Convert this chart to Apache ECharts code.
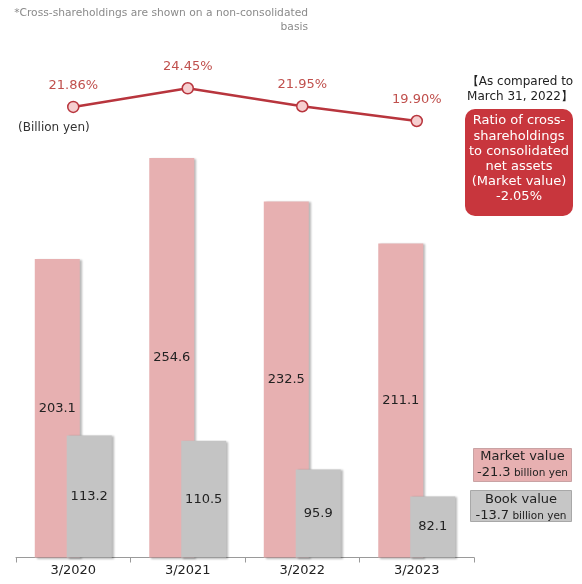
<!DOCTYPE html>
<html><head><meta charset="utf-8">
<script src="https://cdn.jsdelivr.net/npm/echarts@6.0.0/dist/echarts.min.js"></script>
<style>html,body{margin:0;padding:0;background:#fff}#c{width:582px;height:584px}</style>
</head><body><div id="c"></div>
<script>
const categories = ['3/2020', '3/2021', '3/2022', '3/2023'];
const marketValues = [203.1, 254.6, 232.5, 211.1];
const bookValues = [113.2, 110.5, 95.9, 82.1];
const ratioValues = [21.86, 24.45, 21.95, 19.90];

const FONT = '"DejaVu Sans", Verdana, sans-serif';
const chart = echarts.init(document.getElementById('c'));
chart.setOption({
  animation: false,
  backgroundColor: '#fff',
  textStyle: { fontFamily: FONT },
  grid: [
    { left: 16, right: 108, top: 69, bottom: 26.5 },
    { left: 16, right: 108, top: 48.4, bottom: 427.8 }
  ],
  xAxis: [
    {
      type: 'category', gridIndex: 0, data: categories,
      axisLine: { lineStyle: { color: '#9a9a9a', width: 1 } },
      axisTick: { show: true, length: 5, lineStyle: { color: '#9a9a9a' } },
      axisLabel: { color: '#222', fontSize: 13, margin: 7, fontFamily: FONT }
    },
    { type: 'category', gridIndex: 1, data: categories, show: false }
  ],
  yAxis: [
    { type: 'value', gridIndex: 0, min: 51, max: 300, show: false, splitLine: { show: false } },
    { type: 'value', gridIndex: 1, min: 15, max: 30, show: false, splitLine: { show: false } }
  ],
  series: [
    {
      name: 'Market value', type: 'bar', xAxisIndex: 0, yAxisIndex: 0,
      data: marketValues, barWidth: 45, barGap: '-29%',
      itemStyle: { color: '#e7b0b1', shadowColor: 'rgba(0,0,0,0.28)', shadowBlur: 2, shadowOffsetX: 2, shadowOffsetY: 1 },
      label: { show: true, position: 'inside', color: '#222', fontSize: 13, fontFamily: FONT,
               formatter: p => p.value.toFixed(1) }
    },
    {
      name: 'Book value', type: 'bar', xAxisIndex: 0, yAxisIndex: 0,
      data: bookValues, barWidth: 45,
      itemStyle: { color: '#c4c4c4', shadowColor: 'rgba(0,0,0,0.28)', shadowBlur: 2, shadowOffsetX: 2, shadowOffsetY: 1 },
      label: { show: true, position: 'inside', color: '#222', fontSize: 13, fontFamily: FONT,
               formatter: p => p.value.toFixed(1) }
    },
    {
      name: 'Ratio', type: 'line', xAxisIndex: 1, yAxisIndex: 1,
      data: ratioValues, symbol: 'circle', symbolSize: 11,
      lineStyle: { color: '#b8353d', width: 2.5 },
      itemStyle: { color: '#f6cfd0', borderColor: '#b8353d', borderWidth: 1.5 },
      label: { show: true, position: 'top', distance: 9, color: '#c0504d', fontSize: 13, fontFamily: FONT,
               formatter: p => p.value.toFixed(2) + '%' }
    }
  ],
  graphic: [
    { type: 'text', x: 308, y: 6,
      style: { text: '*Cross-shareholdings are shown on a non-consolidated\nbasis', fill: '#8a8a8a',
               font: '10.7px ' + FONT, textAlign: 'right', textVerticalAlign: 'top', lineHeight: 14 } },
    { type: 'text', x: 18, y: 128,
      style: { text: '(Billion yen)', fill: '#333', font: '12px ' + FONT, textAlign: 'left', textVerticalAlign: 'middle' } },
    { type: 'text', x: 520, y: 89.5,
      style: { text: '【As compared to\nMarch 31, 2022】', fill: '#222', font: '12px ' + FONT,
               textAlign: 'center', textVerticalAlign: 'middle', lineHeight: 15.6 } },
    { type: 'rect', shape: { x: 465, y: 109, width: 108, height: 107, r: 10 },
      style: { fill: '#c8363d' } },
    { type: 'text', x: 519, y: 159,
      style: { text: 'Ratio of cross-\nshareholdings\nto consolidated\nnet assets\n(Market value)\n-2.05%',
               fill: '#fff', font: '13px ' + FONT, textAlign: 'center', textVerticalAlign: 'middle', lineHeight: 15.2 } },
    { type: 'rect', shape: { x: 473.5, y: 448.5, width: 98, height: 33 },
      style: { fill: '#e7b0b1', stroke: '#c9a3a4', lineWidth: 1 } },
    { type: 'text', x: 522.5, y: 465,
      style: { text: '{a|Market value}\n{b|-21.3}{c| billion yen}', textAlign: 'center', textVerticalAlign: 'middle',
               rich: { a: { fontSize: 13, fontFamily: FONT, fill: '#222', lineHeight: 16 },
                       b: { fontSize: 13, fontFamily: FONT, fill: '#222', lineHeight: 16 },
                       c: { fontSize: 10.5, fontFamily: FONT, fill: '#222', lineHeight: 16 } } } },
    { type: 'rect', shape: { x: 470.5, y: 490.5, width: 101, height: 31 },
      style: { fill: '#c6c6c6', stroke: '#a8a8a8', lineWidth: 1 } },
    { type: 'text', x: 521, y: 508,
      style: { text: '{a|Book value}\n{b|-13.7}{c| billion yen}', textAlign: 'center', textVerticalAlign: 'middle',
               rich: { a: { fontSize: 13, fontFamily: FONT, fill: '#222', lineHeight: 16 },
                       b: { fontSize: 13, fontFamily: FONT, fill: '#222', lineHeight: 16 },
                       c: { fontSize: 10.5, fontFamily: FONT, fill: '#222', lineHeight: 16 } } } }
  ]
});
</script></body></html>
